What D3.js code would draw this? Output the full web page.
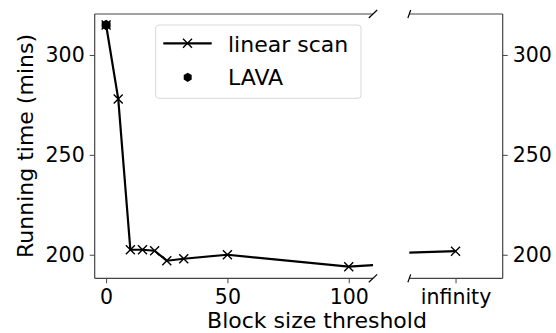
<!DOCTYPE html>
<html>
<head>
<meta charset="utf-8">
<script src="https://cdn.jsdelivr.net/npm/d3@7"></script>
<style>
  body { margin: 0; background: #fff; }
  svg { font-family: "DejaVu Sans", sans-serif; }
</style>
</head>
<body>
<script>
// data (200 stands for "infinity")
const thresholds = [0, 5, 10, 15, 20, 25, 32, 50, 100, 200];
const scanTimes = [315, 278, 202.5, 202.5, 202, 197, 198, 200, 194, 201.8];
const lavaX = [0];
const lavaTimes = [315];
const leftTicks = [0, 50, 100];
const rightTicks = [200];
const rightTickLabels = ["infinity"];
const yTicks = [200, 250, 300];

const W = 556, H = 333;
const plotTop = 14, plotBottom = 278.3;
const left1 = 94.7, right1 = 373;
const left2 = 409.3, right2 = 502.7;
const spineColor = "#444";

const svg = d3.select("body").append("svg")
  .attr("width", W).attr("height", H);

const x1 = d3.scaleLinear().domain([-4.7, 110]).range([left1, right1]);
const x2 = d3.scaleLinear().domain([190, 210.2]).range([left2, right2]);
const y = d3.scaleLinear().domain([188.2, 320.5]).range([plotBottom, plotTop]);

const defs = svg.append("defs");
defs.append("clipPath").attr("id", "clip1").append("rect")
  .attr("x", left1).attr("y", plotTop).attr("width", right1 - left1).attr("height", plotBottom - plotTop);
defs.append("clipPath").attr("id", "clip2").append("rect")
  .attr("x", left2).attr("y", plotTop).attr("width", right2 - left2).attr("height", plotBottom - plotTop);

const pts = thresholds.map((t, i) => [t, scanTimes[i]]);

function xMark(g, cx, cy, r) {
  g.append("path")
    .attr("d", `M${cx - r},${cy - r}L${cx + r},${cy + r}M${cx - r},${cy + r}L${cx + r},${cy - r}`)
    .attr("stroke", "#000").attr("stroke-width", 1.4).attr("fill", "none");
}
function hexagon(cx, cy, r) {
  const p = d3.range(6).map(i => {
    const a = Math.PI / 2 + i * Math.PI / 3;
    return [cx + r * Math.cos(a), cy - r * Math.sin(a)];
  });
  return "M" + p.join("L") + "Z";
}

// draw both panels
[[x1, "clip1"], [x2, "clip2"]].forEach(([xs, clip]) => {
  const g = svg.append("g").attr("clip-path", `url(#${clip})`);
  const line = d3.line().x(d => xs(d[0])).y(d => y(d[1]));
  g.append("path").datum(pts)
    .attr("d", line)
    .attr("fill", "none").attr("stroke", "#000")
    .attr("stroke-width", 2.2).attr("stroke-linejoin", "round");
  pts.forEach(d => xMark(g, xs(d[0]), y(d[1]), 4.5));
  lavaX.forEach((v, i) => {
    g.append("path").attr("d", hexagon(xs(v), y(lavaTimes[i]), 5.2)).attr("fill", "#000");
  });
});

// axes
const yAxisL = svg.append("g")
  .attr("transform", `translate(${left1},0)`)
  .call(d3.axisLeft(y).tickValues(yTicks).tickSize(5).tickPadding(5));
const yAxisR = svg.append("g")
  .attr("transform", `translate(${right2},0)`)
  .call(d3.axisRight(y).tickValues(yTicks).tickSize(5).tickPadding(5));
const xAxis1 = svg.append("g")
  .attr("transform", `translate(0,${plotBottom})`)
  .call(d3.axisBottom(x1).tickValues(leftTicks).tickSize(5).tickPadding(6));
const xAxis2 = svg.append("g")
  .attr("transform", `translate(0,${plotBottom})`)
  .call(d3.axisBottom(x2).tickValues(rightTicks).tickSize(5).tickPadding(6)
    .tickFormat((d, i) => rightTickLabels[i]));

[yAxisL, yAxisR, xAxis1, xAxis2].forEach(a => {
  a.select(".domain").remove();
  a.selectAll(".tick line").attr("stroke", spineColor).attr("stroke-width", 1);
  a.selectAll(".tick text").attr("font-size", "20.5px").attr("fill", "#000")
    .attr("font-family", "DejaVu Sans");
});

// spines
const spines = [
  [left1, plotTop, left1, plotBottom], [left1, plotTop, right1, plotTop], [left1, plotBottom, right1, plotBottom],
  [right2, plotTop, right2, plotBottom], [left2, plotTop, right2, plotTop], [left2, plotBottom, right2, plotBottom]
];
spines.forEach(s => svg.append("line")
  .attr("x1", s[0]).attr("y1", s[1]).attr("x2", s[2]).attr("y2", s[3])
  .attr("stroke", spineColor).attr("stroke-width", 1.2));

// break marks
const dy = 0.015 * (plotBottom - plotTop);
[[right1, 0.015 * (right1 - left1)], [left2, 0.015 * (right2 - left2)]].forEach(([bx, dx]) => {
  [plotTop, plotBottom].forEach(by => svg.append("line")
    .attr("x1", bx - dx).attr("y1", by + dy).attr("x2", bx + dx).attr("y2", by - dy)
    .attr("stroke", "#000").attr("stroke-width", 1.2));
});

// labels
svg.append("text")
  .attr("x", 317).attr("y", 327.5).attr("text-anchor", "middle")
  .attr("font-size", "22px").text("Block size threshold");
svg.append("text")
  .attr("transform", `translate(33,146) rotate(-90)`)
  .attr("text-anchor", "middle").attr("font-size", "22px")
  .text("Running time (mins)");

// legend
const lg = svg.append("g");
lg.append("rect")
  .attr("x", 155.7).attr("y", 25).attr("width", 205.3).attr("height", 73.3)
  .attr("rx", 3).attr("fill", "#fff").attr("fill-opacity", 0.8)
  .attr("stroke", "#d8d8d8").attr("stroke-width", 1);
lg.append("line").attr("x1", 163.3).attr("x2", 211.7).attr("y1", 43.3).attr("y2", 43.3)
  .attr("stroke", "#000").attr("stroke-width", 2.2);
xMark(lg, 187.5, 43.3, 4.5);
lg.append("path").attr("d", hexagon(187.7, 77.3, 4.6)).attr("fill", "#000");
lg.append("text").attr("x", 228).attr("y", 51.5).attr("font-size", "22px").text("linear scan");
lg.append("text").attr("x", 228).attr("y", 85).attr("font-size", "22px").text("LAVA");
</script>
</body>
</html>
